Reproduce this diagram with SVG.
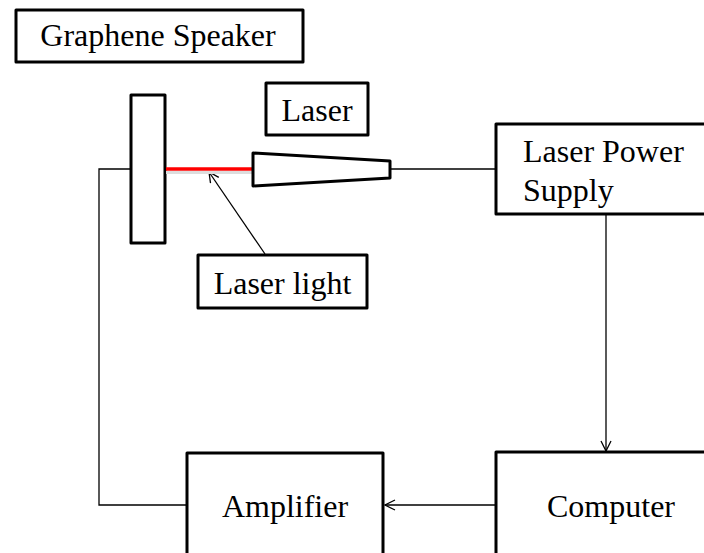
<svg xmlns="http://www.w3.org/2000/svg" width="704" height="553" viewBox="0 0 704 553">
<style>
.box{fill:#fff;stroke:#000;stroke-width:3;stroke-linejoin:round}
.lbl{font-family:"Liberation Serif","Times New Roman",serif;font-size:32px;fill:#000}
.wire{fill:none;stroke:#000;stroke-width:1.3}
</style>
<defs>
<marker id="arr" viewBox="0 0 12 12" refX="11" refY="6" markerWidth="12" markerHeight="12" markerUnits="userSpaceOnUse" orient="auto">
<path d="M1,1 L11,6 L1,11" fill="none" stroke="#000" stroke-width="1.3"/>
</marker>
</defs>
<rect width="704" height="553" fill="#fff"/>
<g id="connectors">
<polyline class="wire" points="131,169 99,169 99,505 187,505"/>
<line class="wire" x1="390" y1="169" x2="496" y2="169"/>
<line class="wire" x1="606" y1="215" x2="606" y2="451" marker-end="url(#arr)"/>
<line class="wire" x1="496" y1="505" x2="385" y2="505" marker-end="url(#arr)"/>
<line class="wire" x1="265" y1="254" x2="209" y2="172" marker-end="url(#arr)"/>
</g>
<g id="graphene-speaker-label">
<rect class="box" x="16" y="10" width="287" height="52"/>
<text class="lbl" x="158" y="46" text-anchor="middle">Graphene Speaker</text>
</g>
<g id="speaker">
<rect class="box" x="131" y="95" width="34" height="148"/>
</g>
<g id="laser-beam">
<line x1="166" y1="172.5" x2="253" y2="172.5" stroke="#ddd" stroke-width="3"/>
<line x1="166" y1="169" x2="253" y2="169" stroke="#f00" stroke-width="3.5"/>
</g>
<g id="laser">
<polygon class="box" points="253,153 390,161 390,178 253,186"/>
</g>
<g id="laser-label">
<rect class="box" x="266" y="83" width="102" height="52"/>
<text class="lbl" x="317" y="121" text-anchor="middle">Laser</text>
</g>
<g id="laser-light">
<rect class="box" x="198" y="255" width="169" height="53"/>
<text class="lbl" x="282.5" y="294" text-anchor="middle">Laser light</text>
</g>
<g id="laser-power-supply">
<rect class="box" x="496" y="124" width="220" height="90"/>
<text class="lbl" x="523" y="162">Laser Power</text>
<text class="lbl" x="523" y="201">Supply</text>
</g>
<g id="amplifier">
<rect class="box" x="187" y="453" width="196" height="120"/>
<text class="lbl" x="285" y="517" text-anchor="middle">Amplifier</text>
</g>
<g id="computer">
<rect class="box" x="496" y="452" width="220" height="120"/>
<text class="lbl" x="611" y="517" text-anchor="middle">Computer</text>
</g>
</svg>
